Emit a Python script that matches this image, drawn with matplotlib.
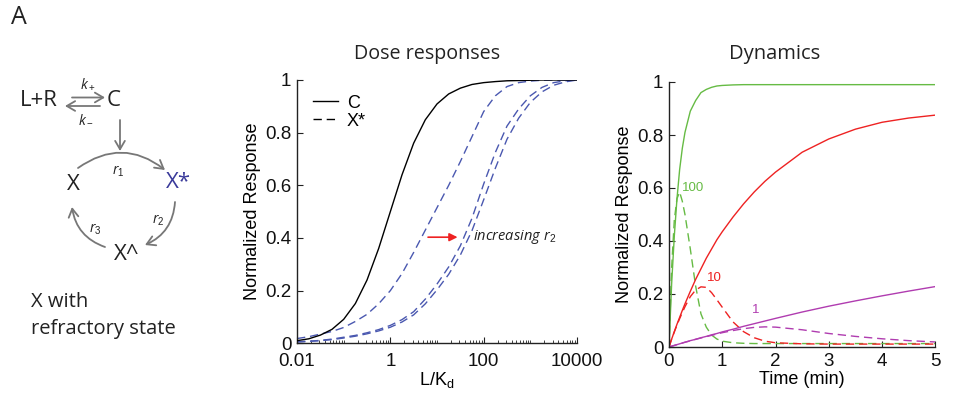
import matplotlib
matplotlib.use('Agg')
import matplotlib.pyplot as plt
from matplotlib.patches import FancyArrowPatch
from matplotlib.lines import Line2D
from matplotlib.ticker import LogLocator, NullFormatter, FixedLocator

plt.rcParams['font.family'] = ['Liberation Sans', 'DejaVu Sans']
plt.rcParams['mathtext.fontset'] = 'custom'
plt.rcParams['mathtext.rm'] = 'Liberation Sans'
plt.rcParams['mathtext.it'] = 'Open Sans:italic'

# ---------------- data: dose responses ----------------
dose_x = [0.01, 0.0178, 0.0316, 0.0562, 0.1, 0.178, 0.316, 0.562, 1, 1.78, 3.16, 5.62,
          10, 17.8, 31.6, 56.2, 100, 178, 316, 562, 1000, 1780, 3160, 5620, 10000]
dose_C = [0.010, 0.017, 0.031, 0.053, 0.091, 0.151, 0.240, 0.360, 0.500, 0.640, 0.760, 0.849,
          0.909, 0.947, 0.969, 0.983, 0.990, 0.994, 0.997, 0.998, 0.999, 1.0, 1.0, 1.0, 1.0]
dose_X1 = [0.018, 0.025, 0.035, 0.045, 0.060, 0.083, 0.110, 0.150, 0.200, 0.265, 0.345, 0.430,
           0.515, 0.600, 0.690, 0.785, 0.880, 0.940, 0.975, 0.990, 0.996, 0.999, 1.0, 1.0, 1.0]
dose_X2 = [0.006, 0.008, 0.011, 0.016, 0.023, 0.030, 0.040, 0.052, 0.068, 0.090, 0.120, 0.168,
           0.225, 0.290, 0.370, 0.475, 0.605, 0.725, 0.825, 0.890, 0.940, 0.972, 0.990, 0.997, 1.0]
dose_X3 = [0.005, 0.007, 0.010, 0.014, 0.020, 0.027, 0.036, 0.047, 0.061, 0.081, 0.108, 0.150,
           0.203, 0.262, 0.335, 0.428, 0.545, 0.665, 0.775, 0.855, 0.915, 0.955, 0.980, 0.993, 1.0]
dose_ticks = [0.01, 1, 100, 10000]
dose_ticklabels = ['0.01', '1', '100', '10000']

# ---------------- data: dynamics ----------------
time_min = [0, 0.05, 0.1, 0.15, 0.2, 0.25, 0.3, 0.4, 0.5, 0.6, 0.7, 0.8, 0.9, 1.0,
            1.2, 1.4, 1.6, 1.8, 2.0, 2.5, 3, 3.5, 4, 4.5, 5]
C_100 = [0, 0.24, 0.42, 0.56, 0.67, 0.75, 0.81, 0.89, 0.93, 0.96, 0.972, 0.98, 0.985, 0.987,
         0.989, 0.99, 0.99, 0.99, 0.99, 0.99, 0.99, 0.99, 0.99, 0.99, 0.99]
X_100 = [0, 0.30, 0.48, 0.56, 0.585, 0.55, 0.50, 0.37, 0.23, 0.125, 0.075, 0.045, 0.030, 0.022,
         0.016, 0.014, 0.013, 0.013, 0.013, 0.013, 0.013, 0.013, 0.013, 0.013, 0.013]
C_10 = [0, 0.03, 0.058, 0.086, 0.112, 0.138, 0.163, 0.21, 0.255, 0.295, 0.335, 0.37, 0.405, 0.435,
        0.49, 0.54, 0.585, 0.625, 0.66, 0.735, 0.785, 0.822, 0.848, 0.864, 0.875]
X_10 = [0, 0.03, 0.057, 0.083, 0.107, 0.13, 0.152, 0.19, 0.215, 0.227, 0.225, 0.205, 0.178, 0.15,
        0.095, 0.058, 0.035, 0.022, 0.016, 0.012, 0.011, 0.011, 0.011, 0.011, 0.011]
C_1 = [0, 0.003, 0.006, 0.009, 0.012, 0.015, 0.018, 0.024, 0.029, 0.035, 0.040, 0.046, 0.051, 0.057,
       0.067, 0.078, 0.088, 0.098, 0.108, 0.132, 0.154, 0.174, 0.193, 0.211, 0.228]
X_1 = [0, 0.003, 0.006, 0.009, 0.012, 0.015, 0.018, 0.023, 0.029, 0.034, 0.039, 0.044, 0.049, 0.054,
       0.062, 0.069, 0.074, 0.076, 0.075, 0.065, 0.051, 0.040, 0.031, 0.024, 0.019]
dose_labels = ['100', '10', '1']

W, H = 966, 393
fig = plt.figure(figsize=(W / 100, H / 100), dpi=100)

BLUE = '#4a58b0'
GREEN = '#66bb44'
RED = '#ee2222'
MAG = '#b03cb0'
DASH = (6, 3.5)
AXC = '#222222'


def style_axes(ax, xpad):
    for s in ['top', 'right']:
        ax.spines[s].set_visible(False)
    for s in ['left', 'bottom']:
        ax.spines[s].set_color(AXC)
        ax.spines[s].set_linewidth(1.0)
    ax.tick_params(direction='in', length=4, width=0.8, colors=AXC, labelsize=13.5,
                   labelcolor='#111111')
    ax.tick_params(axis='x', pad=xpad)
    ax.tick_params(axis='y', pad=4)
    ax.tick_params(which='minor', direction='in', length=2, width=0.6, colors=AXC)


# ---------------- middle: dose responses ----------------
ax1 = fig.add_axes([297 / W, 1 - 343.3 / H, 280 / W, 263.3 / H])
style_axes(ax1, 7)
ax1.plot(dose_x, dose_C, color='black', lw=1.0, zorder=3)
for ys in (dose_X1, dose_X2, dose_X3):
    ax1.plot(dose_x, ys, color=BLUE, lw=1.0, dashes=DASH, zorder=2)
ax1.set_xscale('log')
ax1.set_xlim(0.01, 10000)
ax1.set_ylim(0, 1)
ax1.xaxis.set_major_locator(FixedLocator(dose_ticks))
ax1.set_xticklabels(dose_ticklabels)
ax1.xaxis.set_minor_locator(LogLocator(base=10, subs=range(1, 10), numticks=50))
ax1.xaxis.set_minor_formatter(NullFormatter())
ax1.set_yticks([0, 0.2, 0.4, 0.6, 0.8, 1])
ax1.set_yticklabels(['0', '0.2', '0.4', '0.6', '0.8', '1'])
ax1.set_ylabel('Normalized Response', fontsize=13, labelpad=3)
ax1.set_xlabel(r'L/K$_\mathrm{d}$', fontsize=13, labelpad=0)
handles = [Line2D([], [], color='black', lw=1.0),
           Line2D([], [], color='black', lw=1.0, dashes=DASH)]
ax1.legend(handles, ['C', 'X*'], loc='upper left', bbox_to_anchor=(0.02, 0.985),
           frameon=False, handlelength=1.35, handletextpad=0.5, labelspacing=0.05, fontsize=13,
           borderaxespad=0.2)
ax1.annotate('', xy=(31.6, 0.403), xytext=(5.6, 0.403),
             arrowprops=dict(arrowstyle='-|>', color=RED, lw=1.2, mutation_scale=12))
ax1.text(60, 0.403, r'$increasing\ r_2$', fontsize=10.5, color='#222222', va='center', ha='left')

# ---------------- right: dynamics ----------------
ax2 = fig.add_axes([669 / W, 1 - 347 / H, 266.3 / W, 265 / H])
style_axes(ax2, 4)
ax2.plot(time_min, C_100, color=GREEN, lw=1.0)
ax2.plot(time_min, X_100, color=GREEN, lw=1.0, dashes=DASH)
ax2.plot(time_min, C_10, color=RED, lw=1.0)
ax2.plot(time_min, X_10, color=RED, lw=1.0, dashes=DASH)
ax2.plot(time_min, C_1, color=MAG, lw=1.0)
ax2.plot(time_min, X_1, color=MAG, lw=1.0, dashes=DASH)
ax2.set_xlim(0, 5)
ax2.set_ylim(0, 1)
ax2.set_xticks([0, 1, 2, 3, 4, 5])
ax2.set_yticks([0, 0.2, 0.4, 0.6, 0.8, 1])
ax2.set_yticklabels(['0', '0.2', '0.4', '0.6', '0.8', '1'])
ax2.set_ylabel('Normalized Response', fontsize=13, labelpad=3)
ax2.set_xlabel('Time (min)', fontsize=13, labelpad=1)
ax2.text(0.24, 0.60, dose_labels[0], color=GREEN, fontsize=9.5, va='center', ha='left')
ax2.text(0.71, 0.26, dose_labels[1], color=RED, fontsize=9.5, va='center', ha='left')
ax2.text(1.56, 0.14, dose_labels[2], color=MAG, fontsize=9.5, va='center', ha='left')

# ---------------- overlay: titles + diagram ----------------
ov = fig.add_axes([0, 0, 1, 1], zorder=10)
ov.set_xlim(0, W)
ov.set_ylim(H, 0)
ov.axis('off')
ov.patch.set_visible(False)

TF = ['Open Sans', 'DejaVu Sans']
ov.text(427, 54, 'Dose responses', fontsize=14.2, family=TF, ha='center', va='center', color='#222222')
ov.text(775, 54, 'Dynamics', fontsize=14.5, family=TF, ha='center', va='center', color='#222222')
ov.text(11, 18, 'A', fontsize=18, family=TF, ha='left', va='center', color='#222222')

GRAY = '#777777'
DC = '#222222'
ov.text(39, 100, 'L+R', fontsize=16, family=TF, ha='center', va='center', color=DC)
ov.text(114, 100, 'C', fontsize=16, family=TF, ha='center', va='center', color=DC)
ov.text(88, 84, r'$k_+$', fontsize=10, ha='center', va='center', color=DC)
ov.text(86, 119, r'$k_-$', fontsize=10, ha='center', va='center', color=DC)
ov.text(73, 184, 'X', fontsize=16, family=TF, ha='center', va='center', color=DC)
ov.text(178, 183, 'X*', fontsize=16, family=TF, ha='center', va='center', color='#3a3a9a')
ov.text(127, 255, 'X^', fontsize=16, family=TF, ha='center', va='center', color=DC)
ov.text(118, 171, r'$r_1$', fontsize=10, ha='center', va='center', color=DC)
ov.text(158, 220, r'$r_2$', fontsize=10, ha='center', va='center', color=DC)
ov.text(95, 229, r'$r_3$', fontsize=10, ha='center', va='center', color=DC)
ov.text(31, 302, 'X with', fontsize=14.5, family=TF, ha='left', va='center', color=DC)
ov.text(31, 329, 'refractory state', fontsize=14.5, family=TF, ha='left', va='center', color=DC)


def arrow(p0, p1, rad=0.0):
    a = FancyArrowPatch(p0, p1, arrowstyle='->,head_length=6,head_width=3.5',
                        connectionstyle=f'arc3,rad={rad}', color=GRAY, lw=1.3,
                        mutation_scale=1, shrinkA=0, shrinkB=0)
    ov.add_patch(a)


arrow((72, 97.5), (105, 97.5))
arrow((100, 106), (65, 106))
arrow((120, 120), (120, 151))
arrow((78, 168), (165, 170), rad=-0.37)
arrow((175, 202), (145, 245), rad=-0.3)
arrow((105, 247), (72, 207), rad=-0.3)

fig.savefig('out.png', dpi=100)
